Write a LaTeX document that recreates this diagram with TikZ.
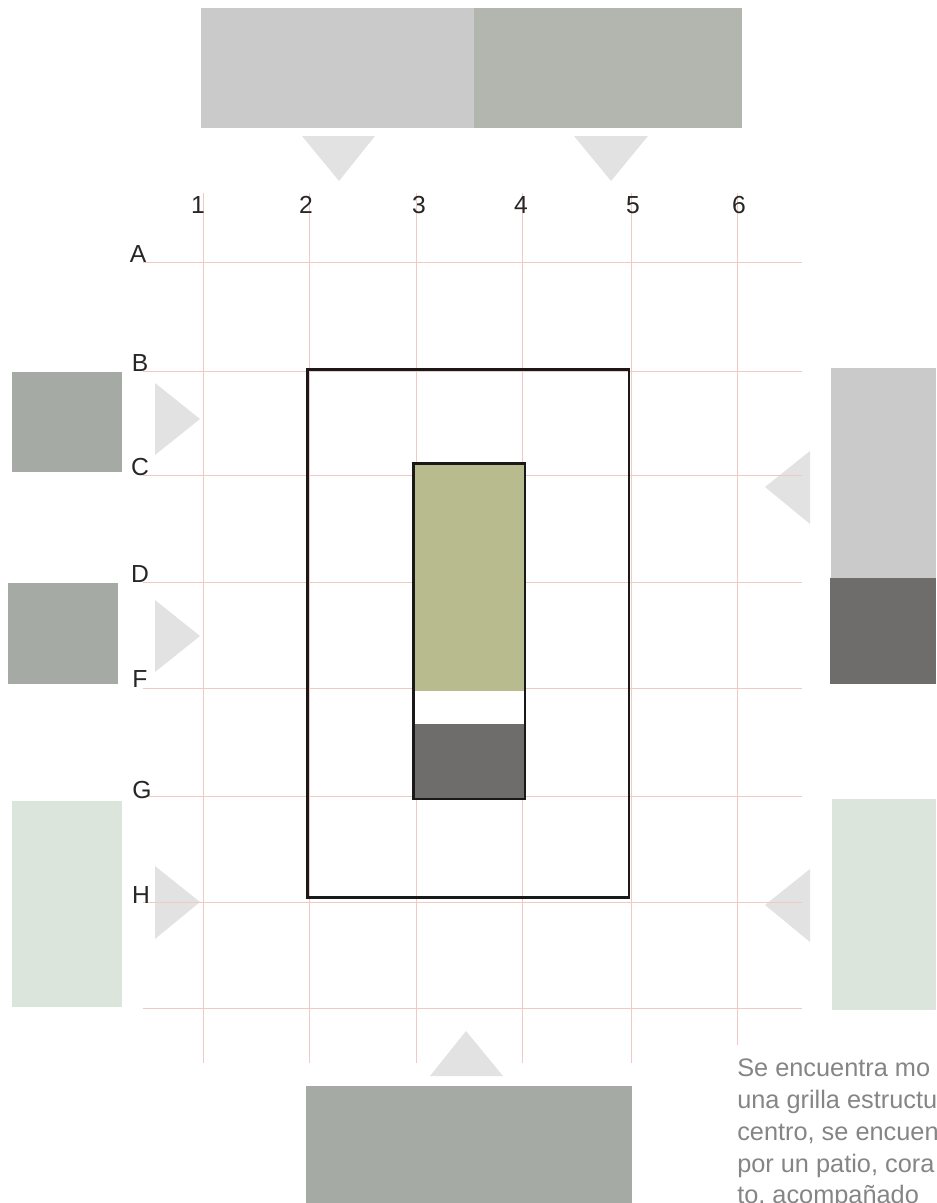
\documentclass[tikz,border=0pt]{standalone}
\usepackage{fontspec}
\setmainfont{Liberation Sans}
\definecolor{gridc}{HTML}{F0C8C4}
\definecolor{lightg}{HTML}{CACACA}
\definecolor{sageg}{HTML}{B2B6AE}
\definecolor{midg}{HTML}{A6AAA4}
\definecolor{darkg}{HTML}{6F6C6C}
\definecolor{paleg}{HTML}{DBE5DB}
\definecolor{olive}{HTML}{B8BB8E}
\definecolor{tri}{HTML}{E2E2E2}
\definecolor{bodyt}{HTML}{858585}
\tikzset{
  gridline/.style={draw=gridc,line width=0.75pt},
  frame/.style={draw=black!90,line width=1.9pt},
  tag/.style={font=\fontsize{18.5}{18.5}\selectfont,text=black!85,inner sep=0pt},
  para/.style={font=\fontsize{19}{19}\selectfont,text=bodyt,inner sep=0pt,anchor=base west},
  pointer/.style={fill=tri,draw=none}
}
\begin{document}
\begin{tikzpicture}[x=0.75pt,y=-0.75pt]
\useasboundingbox (0,0) rectangle (936,1203);
\clip (0,0) rectangle (936,1203);
% blocks
\fill[lightg] (201,8) rectangle (474,128);
\fill[sageg] (474,8) rectangle (742,128);
\fill[midg] (12,372) rectangle (122,472);
\fill[midg] (8,583) rectangle (118,684);
\fill[paleg] (12,801) rectangle (122,1007);
\fill[lightg] (831,368) rectangle (936,578);
\fill[darkg] (830,578) rectangle (936,684);
\fill[paleg] (832,799) rectangle (936,1010);
\fill[midg] (306,1086) rectangle (632,1203);
% pointers
\fill[pointer] (302,136) -- (375,136) -- (339,181) -- cycle;
\fill[pointer] (574,136) -- (648,136) -- (611,181) -- cycle;
\fill[pointer] (155,383) -- (200,419) -- (155,455) -- cycle;
\fill[pointer] (155,600) -- (200,636) -- (155,672) -- cycle;
\fill[pointer] (155,866) -- (200,902) -- (155,939) -- cycle;
\fill[pointer] (810,451) -- (765,487) -- (810,524) -- cycle;
\fill[pointer] (810,869) -- (765,905) -- (810,942) -- cycle;
\fill[pointer] (430,1076) -- (503,1076) -- (466,1031) -- cycle;
% grid
\foreach \x in {203,309,416,522,631}
  \draw[gridline] (\x,193) -- (\x,1063);
\draw[gridline] (737,193) -- (737,1045);
\foreach \y in {262,371,475,582,688,796,902,1008}
  \draw[gridline] (143,\y) -- (802,\y);
% inner block fills
\fill[white] (414,691) rectangle (524,724);
\fill[olive] (414,464) rectangle (524,691);
\fill[darkg] (414,724) rectangle (524,799);
% frames
\draw[frame] (307.5,369.5) rectangle (629,897.5);
\draw[frame] (413.5,463.5) rectangle (525,799);
% labels
\foreach \n/\x in {1/198,2/306,3/419,4/521,5/633,6/739}
  \node[tag] (col\n) at (\x,205) {\n};
\foreach \n/\x/\y in {A/138/254,B/140/363,C/140/467,D/140/574,F/140/679,G/142/790,H/141/895}
  \node[tag] (row\n) at (\x,\y) {\n};
% text
\node[para] (t1) at (737,1076) {Se encuentra mo};
\node[para] (t2) at (737,1108) {una grilla estructu};
\node[para] (t3) at (737,1140) {centro, se encuen};
\node[para] (t4) at (737,1172) {por un patio, cora};
\node[para] (t5) at (737,1203) {to, acompañado};
\end{tikzpicture}
\end{document}
